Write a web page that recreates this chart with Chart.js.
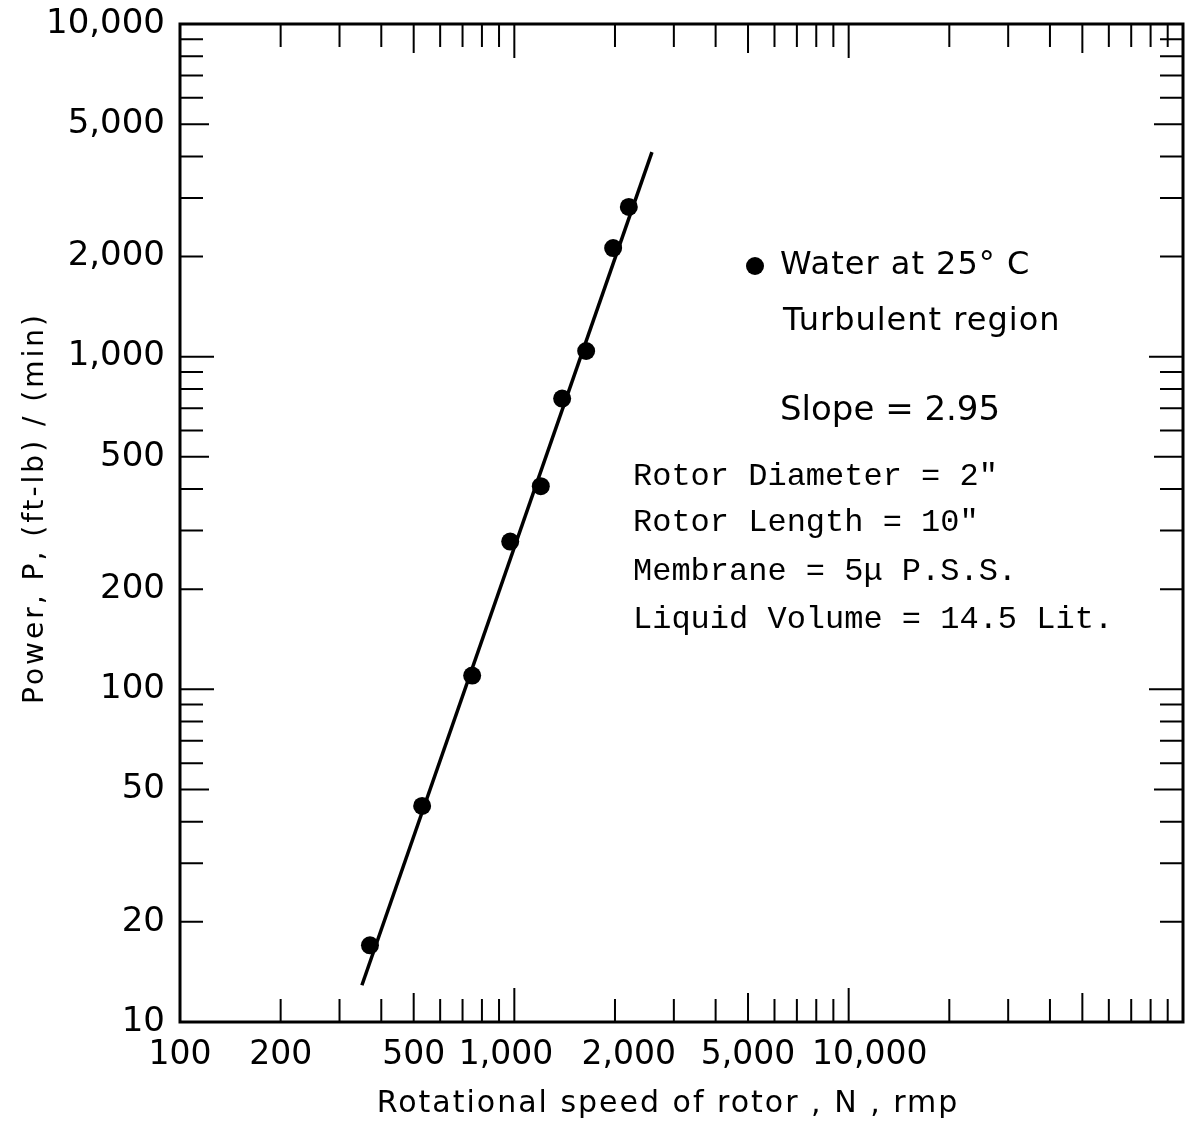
<!DOCTYPE html>
<html>
<head>
<meta charset="utf-8">
<script src="https://cdn.jsdelivr.net/npm/chart.js@4.4.1/dist/chart.umd.min.js"></script>
<style>
  html, body { margin: 0; padding: 0; background: #fff; }
</style>
</head>
<body>
<canvas id="potencia" width="1193" height="1130"></canvas>
<script>
// datos (escala log-log)
const speedRpm = [370, 530, 748, 972, 1200, 1390, 1640, 1975, 2200];
const powerFtLbMin = [17.0, 44.6, 110, 278, 408, 748, 1040, 2120, 2820];
// recta ajustada, extremos
const fitSpeed = [350, 2580];
const fitPower = [12.9, 4120];

const xTickValues = [100, 200, 500, 1000, 2000, 5000, 10000];
const xTickLabels = ["100", "200", "500", "1,000", "2,000", "5,000", "10,000"];
const yTickValues = [10, 20, 50, 100, 200, 500, 1000, 2000, 5000, 10000];
const yTickLabels = ["10", "20", "50", "100", "200", "500", "1,000", "2,000", "5,000", "10,000"];

const notesSans = ["Water at 25° C", "Turbulent region", "Slope = 2.95"];
const notesMono = ['Rotor Diameter = 2"', 'Rotor Length = 10"', "Membrane = 5μ P.S.S.", "Liquid Volume = 14.5 Lit."];
const xTitle = "Rotational speed of rotor , N , rmp";
const yTitle = "Power, P, (ft-lb) / (min)";

const SANS = "'DejaVu Sans', sans-serif";
const MONO = "'Liberation Mono', 'DejaVu Sans Mono', monospace";

// en el original las etiquetas del eje x estan algo corridas (rotulado a mano)
const antes = { 2000: "\u2007\u2009", 10000: "\u2007\u2007" };
const despues = { 1000: "\u2002" };

// largo de las marcas: decada, cinco, resto
const largo = (m) => (m === 1 ? 34 : m === 5 ? 29 : 23);

const marcoLog = {
  id: "marcoLog",
  afterDraw(chart) {
    const { ctx, chartArea: a, scales } = chart;
    const x = scales.x;
    const y = scales.y;
    ctx.save();
    ctx.strokeStyle = "#000";
    ctx.lineWidth = 2;
    ctx.beginPath();
    for (let d = 100; d < 100000; d *= 10) {
      for (let m = 1; m < 10; m++) {
        const px = x.getPixelForValue(d * m);
        const l = largo(m);
        ctx.moveTo(px, a.bottom);
        ctx.lineTo(px, a.bottom - l);
        ctx.moveTo(px, a.top);
        ctx.lineTo(px, a.top + l);
      }
    }
    for (let d = 10; d < 10000; d *= 10) {
      for (let m = 1; m < 10; m++) {
        const py = y.getPixelForValue(d * m);
        const l = largo(m);
        ctx.moveTo(a.left, py);
        ctx.lineTo(a.left + l, py);
        ctx.moveTo(a.right, py);
        ctx.lineTo(a.right - l, py);
      }
    }
    ctx.stroke();
    ctx.lineWidth = 3;
    ctx.strokeRect(a.left, a.top, a.width, a.height);

    // textos del recuadro
    ctx.fillStyle = "#000";
    ctx.beginPath();
    ctx.arc(755, 266, 9, 0, Math.PI * 2);
    ctx.fill();
    ctx.textBaseline = "middle";
    ctx.textAlign = "left";
    ctx.font = "32px " + SANS;
    ctx.letterSpacing = "1px";
    ctx.fillText(notesSans[0], 780, 266);
    ctx.fillText(notesSans[1], 783, 322);
    ctx.letterSpacing = "0px";
    ctx.font = "34px " + SANS;
    ctx.fillText(notesSans[2], 780, 411);
    ctx.font = "32px " + MONO;
    const filas = [477, 523, 572, 620];
    notesMono.forEach((t, i) => ctx.fillText(t, 633, filas[i]));

    // titulos de ejes
    ctx.textAlign = "center";
    ctx.font = "30px " + SANS;
    ctx.letterSpacing = "2px";
    ctx.fillText(xTitle, 668, 1104);
    ctx.translate(36, 508);
    ctx.rotate(-Math.PI / 2);
    ctx.font = "28px " + SANS;
    ctx.letterSpacing = "3px";
    ctx.fillText(yTitle, 0, 0);
    ctx.restore();
  },
};

new Chart(document.getElementById("potencia"), {
  type: "scatter",
  data: {
    datasets: [
      {
        label: "Water at 25° C",
        data: speedRpm.map((v, i) => ({ x: v, y: powerFtLbMin[i] })),
        backgroundColor: "#000",
        borderColor: "#000",
        pointRadius: 9,
        pointBorderWidth: 0,
        showLine: false,
      },
      {
        label: "Slope = 2.95",
        data: fitSpeed.map((v, i) => ({ x: v, y: fitPower[i] })),
        borderColor: "#000",
        borderWidth: 3.5,
        pointRadius: 0,
        showLine: true,
      },
    ],
  },
  options: {
    responsive: false,
    animation: false,
    devicePixelRatio: 1,
    layout: { padding: { top: 24, right: 10, bottom: 0, left: 0 } },
    plugins: {
      legend: { display: false },
      tooltip: { enabled: false },
    },
    scales: {
      x: {
        type: "logarithmic",
        min: 100,
        max: 100000,
        grid: { display: false, drawTicks: false },
        border: { display: false },
        afterBuildTicks: (s) => {
          s.ticks = xTickValues.map((v) => ({ value: v }));
        },
        afterFit: (s) => {
          s.height = 108;
          s.paddingLeft = 0;
          s.paddingRight = 0;
        },
        ticks: {
          autoSkip: false,
          maxRotation: 0,
          padding: 14,
          color: "#000",
          font: { family: SANS, size: 33 },
          callback: (v) =>
            (antes[v] || "") + xTickLabels[xTickValues.indexOf(v)] + (despues[v] || ""),
        },
      },
      y: {
        type: "logarithmic",
        min: 10,
        max: 10000,
        grid: { display: false, drawTicks: false },
        border: { display: false },
        afterBuildTicks: (s) => {
          s.ticks = yTickValues.map((v) => ({ value: v }));
        },
        afterFit: (s) => {
          s.width = 180;
          s.paddingTop = 0;
          s.paddingBottom = 0;
        },
        ticks: {
          autoSkip: false,
          padding: 15,
          color: "#000",
          font: { family: SANS, size: 34 },
          callback: (v) => yTickLabels[yTickValues.indexOf(v)],
        },
      },
    },
  },
  plugins: [marcoLog],
});
</script>
</body>
</html>
